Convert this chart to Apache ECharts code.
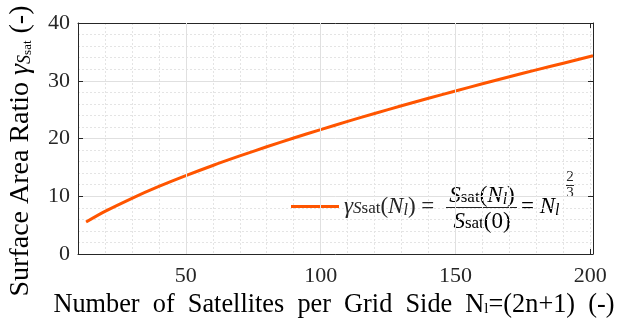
<!DOCTYPE html>
<html>
<head>
<meta charset="utf-8">
<script src="https://cdn.jsdelivr.net/npm/echarts@6/dist/echarts.min.js"></script>
<style>
  html, body { margin: 0; padding: 0; background: #fff; }
  #chart { width: 626px; height: 324px; }
</style>
</head>
<body>
<div id="chart"></div>
<script>
// satellites per grid side N_l and surface area ratio
const satellitesN = [13, 20, 30, 40, 50, 60, 70, 80, 90, 100, 110, 120, 130, 140, 150, 160, 170, 180, 190, 201];
const areaRatio = [5.53, 7.37, 9.65, 11.7, 13.57, 15.33, 16.98, 18.57, 20.08, 21.54, 22.96, 24.33, 25.66, 26.96, 28.23, 29.47, 30.69, 31.88, 33.04, 34.32];
const xTickValues = [50, 100, 150, 200];
const yTickValues = [0, 10, 20, 30, 40];

const serif = 'Liberation Serif';
const ink = '#262626';
const lineColor = '#ff5500';
const gridMajor = '#e0e0e0';
const gridMinor = '#e4e4e4';

const chart = echarts.init(document.getElementById('chart'));

const rich = {
  n: { fontFamily: serif, fontSize: 23, color: ink },
  i: { fontFamily: serif, fontSize: 23, fontStyle: 'italic', color: ink },
  g: { fontFamily: serif, fontSize: 23, fontStyle: 'italic', color: ink },
  s: { fontFamily: serif, fontSize: 17, fontStyle: 'italic', color: ink, padding: [4, 0, 0, 0] },
  t: { fontFamily: serif, fontSize: 17, color: ink, padding: [4, 0, 0, 0] },
  l: { fontFamily: serif, fontSize: 16, fontStyle: 'italic', color: ink, padding: [8, 0, 0, 0] }
};

const tickLabel = { fontFamily: serif, fontSize: 22, color: ink };

// shared x scale settings
const xRange = { type: 'value', min: 10, max: 201, interval: 10 };

const option = {
  animation: false,
  grid: { left: 78, right: 33, top: 23, bottom: 70 },
  xAxis: [
    {
      ...xRange,
      position: 'bottom',
      axisLine: { show: true, lineStyle: { color: ink, width: 1 } },
      axisTick: { show: true, inside: true, length: 5, customValues: xTickValues, lineStyle: { color: ink } },
      axisLabel: { customValues: xTickValues, margin: 11, ...tickLabel },
      splitLine: { show: false }
    },
    {
      ...xRange,
      position: 'top',
      axisLine: { show: true, onZero: false, lineStyle: { color: ink, width: 1 } },
      axisTick: { show: true, inside: true, length: 5, customValues: xTickValues, lineStyle: { color: ink } },
      axisLabel: { show: false },
      splitLine: { show: false }
    },
    {
      // minor vertical grid only
      ...xRange,
      position: 'bottom',
      axisLine: { show: false },
      axisTick: { show: false },
      axisLabel: { show: false },
      splitLine: { show: true, lineStyle: { color: gridMinor, type: [2, 2] } }
    }
  ],
  yAxis: [
    {
      type: 'value',
      min: 0,
      max: 40,
      interval: 10,
      position: 'left',
      axisLine: { show: true, lineStyle: { color: ink, width: 1 } },
      axisTick: { show: true, inside: true, length: 5, lineStyle: { color: ink } },
      axisLabel: { margin: 8, ...tickLabel },
      splitLine: { show: true, lineStyle: { color: gridMajor, width: 1 } },
      minorTick: { show: false, splitNumber: 5 },
      minorSplitLine: { show: true, lineStyle: { color: gridMinor, type: [2, 2] } }
    },
    {
      type: 'value',
      min: 0,
      max: 40,
      interval: 10,
      position: 'right',
      axisLine: { show: true, onZero: false, lineStyle: { color: ink, width: 1 } },
      axisTick: { show: true, inside: true, length: 5, lineStyle: { color: ink } },
      axisLabel: { show: false },
      splitLine: { show: false }
    }
  ],
  legend: {
    left: 291,
    top: 195,
    padding: 0,
    icon: 'rect',
    itemWidth: 48,
    itemHeight: 3,
    data: ['ratio'],
    formatter: () => '{g|γ}{s|S}{t|sat}{n|(}{i|N}{l|l}{n|) =}',
    textStyle: { rich: rich }
  },
  series: [
    {
      // major vertical grid lines
      type: 'line',
      data: [],
      silent: true,
      z: 1,
      markLine: {
        silent: true,
        symbol: 'none',
        label: { show: false },
        lineStyle: { color: gridMajor, width: 1, type: 'solid' },
        data: xTickValues.slice(0, 3).map(v => ({ xAxis: v }))
      }
    },
    {
      name: 'ratio',
      type: 'line',
      data: satellitesN.map((n, k) => [n, areaRatio[k]]),
      smooth: 0.3,
      symbol: 'none',
      z: 3,
      lineStyle: { color: lineColor, width: 3 },
      itemStyle: { color: lineColor }
    }
  ],
  graphic: [
    // y axis title
    { type: 'text', x: 21, y: 151, rotation: Math.PI / 2, style: {
      text: '{n|Surface Area Ratio }{g|γ}{s|S}{t|sat}{n| (-)}', align: 'center', verticalAlign: 'middle',
      rich: {
        n: { fontFamily: serif, fontSize: 28, color: ink },
        g: { fontFamily: serif, fontSize: 28, fontStyle: 'italic', color: ink },
        s: { fontFamily: serif, fontSize: 18, fontStyle: 'italic', color: ink, padding: [8, 0, 0, 0] },
        t: { fontFamily: serif, fontSize: 13, color: ink, padding: [14, 0, 0, 0] }
      } } },
    // x axis title
    { type: 'text', x: 334, y: 305, style: {
      text: '{n|Number\u00a0\u00a0of\u00a0\u00a0Satellites\u00a0\u00a0per\u00a0\u00a0Grid\u00a0\u00a0Side\u00a0\u00a0N}{x|l}{n|=(2n+1)\u00a0\u00a0(-)}',
      align: 'center', verticalAlign: 'middle',
      rich: {
        n: { fontFamily: serif, fontSize: 26.3, color: ink },
        x: { fontFamily: serif, fontSize: 15, color: ink, padding: [9, 0, 0, 0] }
      } } },
    // legend formula, right part
    { type: 'text', x: 482, y: 196, style: { text: '{i|S}{t|sat}{n|(}{i|N}{l|l}{n|)}', rich: rich, align: 'center', verticalAlign: 'middle' } },
    { type: 'line', shape: { x1: 446, y1: 207.5, x2: 517, y2: 207.5 }, style: { stroke: ink, lineWidth: 1 } },
    { type: 'text', x: 482, y: 222, style: { text: '{i|S}{t|sat}{n|(0)}', rich: rich, align: 'center', verticalAlign: 'middle' } },
    { type: 'text', x: 521, y: 207, style: { text: '{n|= }{i|N}{l|l}', rich: rich, align: 'left', verticalAlign: 'middle' } },
    { type: 'text', x: 570, y: 177, style: { text: '2', fill: ink, font: '15px "Liberation Serif"', align: 'center', verticalAlign: 'middle' } },
    { type: 'line', shape: { x1: 566, y1: 185.5, x2: 574, y2: 185.5 }, style: { stroke: ink, lineWidth: 1 } },
    { type: 'text', x: 570, y: 193, style: { text: '3', fill: ink, font: '15px "Liberation Serif"', align: 'center', verticalAlign: 'middle' } }
  ]
};

chart.setOption(option);
</script>
</body>
</html>
